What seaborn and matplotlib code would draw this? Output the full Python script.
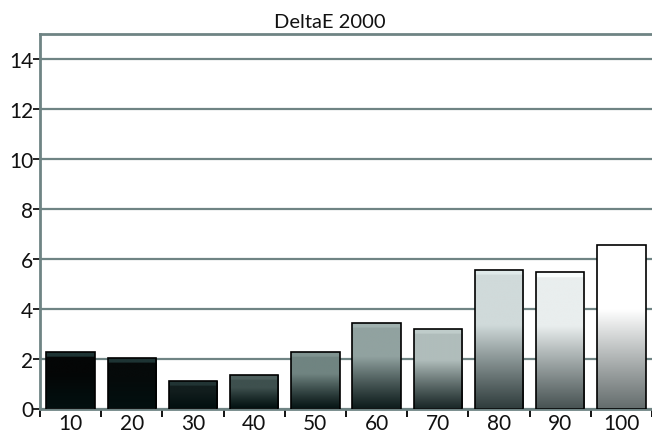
import numpy as np
import seaborn as sns
import matplotlib.pyplot as plt

levels = ["10", "20", "30", "40", "50", "60", "70", "80", "90", "100"]
delta_e = [2.27, 2.03, 1.11, 1.35, 2.25, 3.43, 3.2, 5.53, 5.45, 6.56]
y_ticks = [0, 2, 4, 6, 8, 10, 12, 14]

# top colour of each bar's gradient (rgb 0-255)
top_colors = [(4, 6, 6), (6, 10, 10), (18, 30, 30), (62, 80, 78), (112, 132, 129),
              (145, 162, 160), (176, 189, 187), (208, 218, 218), (233, 238, 238), (255, 255, 255)]
dark = np.array([2, 16, 16]) / 255
grid_col = "#6f8484"
txt_col = "#111111"

sns.set_theme(style="white")
plt.rcParams["font.family"] = ["Lato", "DejaVu Sans"]

fig = plt.figure(figsize=(6.52, 4.35), dpi=100)
ax = fig.add_axes([40 / 652, 1 - 409.5 / 435, 1 - 40 / 652, (409.5 - 35) / 435])

sns.barplot(x=levels, y=delta_e, color="white", edgecolor="black", linewidth=1.2,
            width=0.79, ax=ax, zorder=3)

for i, p in enumerate(ax.patches):
    x0, y0, w, h = p.get_x(), p.get_y(), p.get_width(), p.get_height()
    base = np.array(top_colors[i]) / 255
    lum = base.mean()
    s0 = 0.04 + 0.42 * lum ** 3
    t = np.linspace(0, 1, 200)[:, None]
    s = np.clip(s0 + (1 - s0) * t / 0.6, 0, 1) ** 1.2
    grad = dark + (base - dark) * s
    # thin lighter band at the top of dark bars
    band = (t * h) > (h - 0.22)
    hl = np.maximum(base + 0.06, np.array([30, 52, 52]) / 255)
    grad = np.where(band, np.maximum(grad, hl), grad)
    img = np.repeat(grad[:, None, :], 2, axis=1)
    im = ax.imshow(img, extent=[x0, x0 + w, y0, y0 + h], origin="lower",
                   aspect="auto", zorder=3.5, interpolation="bilinear")
    im.set_clip_path(p)
    p.set_facecolor("none")
    p.set_zorder(4)

ax.set_xlim(-0.5, 9.5)
ax.set_ylim(0, 15)
ax.set_yticks(y_ticks)
ax.yaxis.grid(True, color=grid_col, linewidth=1.6)
ax.set_axisbelow(True)

ax.set_xticks(np.arange(-0.5, 10, 1), minor=True)
ax.tick_params(axis="x", which="major", bottom=True, length=0, labelsize=15, pad=3,
               labelcolor=txt_col)
ax.tick_params(axis="x", which="minor", bottom=True, length=6, width=1.4, color=txt_col,
               direction="out")
ax.tick_params(axis="y", which="major", left=True, length=5, width=1.3, color=txt_col,
               direction="out", labelsize=15, pad=0, labelcolor=txt_col)

for side in ["left", "top", "bottom"]:
    ax.spines[side].set_visible(True)
    ax.spines[side].set_color(grid_col)
    ax.spines[side].set_linewidth(2)
ax.spines["right"].set_visible(False)

ax.set_xlabel("")
ax.set_ylabel("")
fig.text(330 / 652, 1 - 22 / 435, "DeltaE 2000", ha="center", va="center",
         fontsize=14.5, color=txt_col)

fig.savefig("out.png", dpi=100)
